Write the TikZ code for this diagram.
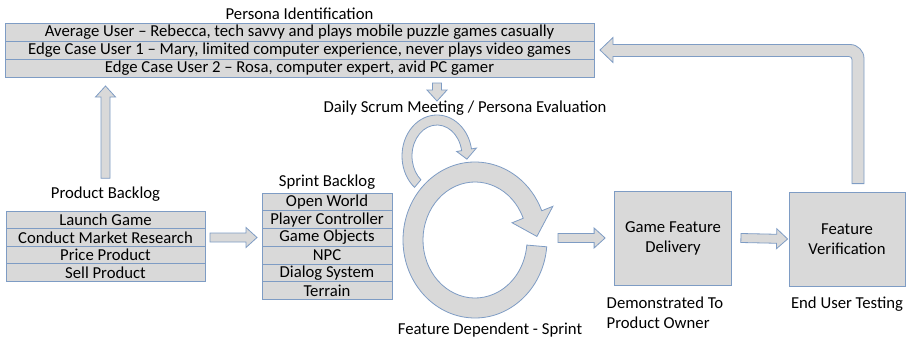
\documentclass[tikz,border=0pt]{standalone}
\usepackage{fontspec}
\setmainfont{Carlito}
\usetikzlibrary{positioning,calc}
\definecolor{boxfill}{RGB}{217,217,217}
\definecolor{boxline}{RGB}{126,156,196}
\tikzset{
  row/.style={draw=boxline, fill=boxfill, inner sep=0pt, outer sep=0pt},
  bigbox/.style={draw=boxline, fill=boxfill, align=center, minimum width=117, minimum height=94},
  blockarr/.style={draw=boxline, fill=boxfill, line join=miter},
}
% flat block arrow between two named coordinates
\newcommand{\blockarrow}[2]{%
  \path ($(#2)!11pt!(#1)$) coordinate (ah);
  \draw[blockarr] ($(#1)!4.5pt!90:(#2)$) -- ($(ah)!4.5pt!90:(#2)$) -- ($(ah)!10pt!90:(#2)$) -- (#2)
    -- ($(ah)!10pt!-90:(#2)$) -- ($(ah)!4.5pt!-90:(#2)$) -- ($(#1)!4.5pt!-90:(#2)$) -- cycle;}

\begin{document}
\begin{tikzpicture}[x=1pt, y=-1pt, font=\fontsize{16.7}{20}\selectfont, line width=0.8pt]
        \useasboundingbox (0,0) rectangle (907,345);

        % personas
        \node (p1) [row, minimum width=589, minimum height=18] at (299.5,32) {Average User -- Rebecca, tech savvy and plays mobile puzzle games casually};
        \node (p2) [row, minimum width=589, minimum height=18, below=0pt of p1] {Edge Case User 1 -- Mary, limited computer experience, never plays video games};
        \node (p3) [row, minimum width=589, minimum height=18, below=0pt of p2] {Edge Case User 2 -- Rosa, computer expert, avid PC gamer};
        \node (pit) [above=0pt of p1] {Persona Identification};

        % product backlog
        \node (pb1) [row, minimum width=199, minimum height=17.5] at (105.5,220) {Launch Game};
        \node (pb2) [row, minimum width=199, minimum height=17.5, below=0pt of pb1] {Conduct Market Research};
        \node (pb3) [row, minimum width=199, minimum height=17.5, below=0pt of pb2] {Price Product};
        \node (pb4) [row, minimum width=199, minimum height=17.5, below=0pt of pb3] {Sell Product};
        \node (pbt) [above=6pt of pb1] {Product Backlog};

        % sprint backlog
        \node (sb1) [row, minimum width=130, minimum height=17.7] at (327,202) {Open World};
        \node (sb2) [row, minimum width=130, minimum height=17.7, below=0pt of sb1] {Player Controller};
        \node (sb3) [row, minimum width=130, minimum height=17.7, below=0pt of sb2] {Game Objects};
        \node (sb4) [row, minimum width=130, minimum height=17.7, below=0pt of sb3] {NPC};
        \node (sb5) [row, minimum width=130, minimum height=17.7, below=0pt of sb4] {Dialog System};
        \node (sb6) [row, minimum width=130, minimum height=17.7, below=0pt of sb5] {Terrain};
        \node (sbt) [above=0pt of sb1] {Sprint Backlog};

        % sprint loop
        \coordinate (sprint) at (475,240);
        \coordinate (scrum) at (437,156);
        \node (dsm) at (465,108) {Daily Scrum Meeting / Persona Evaluation};
        \node (fds) at (490,330) {Feature Dependent - Sprint};

        % delivery and verification
        \node (gfd) [bigbox] at (673,238) {Game Feature\\Delivery};
        \node (fv) [bigbox, minimum width=116] at (847,239) {Feature\\Verification};
        \node (dpo) [align=left, anchor=north west] at (603,293) {Demonstrated To\\Product Owner};
        \node (eut) [below=7pt of fv] {End User Testing};

        % straight arrows
        \coordinate (a1) at ([xshift=5pt]pb2.east);
        \coordinate (a2) at ([xshift=-5pt]pb2.east -| sb1.west);
        \blockarrow{a1}{a2}
        \coordinate (u1) at ([yshift=5pt]pbt.north);
        \coordinate (u2) at ($(u1 |- p3.south)+(0,9)$);
        \blockarrow{u1}{u2}
        \coordinate (d1) at ($(p3.south)+(137.5,6)$);
        \coordinate (d2) at ($(d1 |- dsm.north)+(0,4)$);
        \blockarrow{d1}{d2}
        \coordinate (s1) at (558,238);
        \coordinate (s2) at ([xshift=-9pt]gfd.west);
        \blockarrow{s1}{s2}
        \coordinate (g1) at ([xshift=9pt]gfd.east);
        \coordinate (g2) at ([xshift=-1pt]fv.west);
        \blockarrow{g1}{g2}

        % return arrow
        \coordinate (rb) at ([xshift=11pt,yshift=8pt]fv.north);
        \coordinate (rt) at ([xshift=6pt]p2.east);
        \draw[blockarr] ($(rb)+(-6,0)$) -- ($(rb |- rt)+(-6,9.5)$) arc[start angle=0, end angle=-90, radius=3]
            -- ($(rt)+(13,6.5)$) -- ($(rt)+(13,12.5)$) -- (rt) -- ($(rt)+(13,-12.5)$) -- ($(rt)+(13,-5.5)$)
            -- ($(rb |- rt)+(-8,-5.5)$) arc[start angle=270, end angle=360, radius=14]
            -- ($(rb)+(6,0)$) -- cycle;

        % small loop and sprint ring
        \draw[blockarr] ($(scrum)+(130:35 and 41)$) arc[start angle=130, end angle=350, x radius=35, y radius=41]
            -- ($(scrum)+(350:40 and 46)$) -- ($(scrum)+(5:30 and 36)$) -- ($(scrum)+(350:20 and 26)$)
            -- ($(scrum)+(350:25 and 31)$) arc[start angle=350, end angle=130, x radius=25, y radius=31] -- cycle;
        \draw[blockarr] ($(sprint)+(5:72 and 78)$) arc[start angle=5, end angle=338, x radius=72, y radius=78]
            -- ($(sprint)+(338:84 and 90)$) -- ($(sprint)+(357:62 and 68)$) -- ($(sprint)+(338:40 and 46)$)
            -- ($(sprint)+(338:52 and 58)$) arc[start angle=338, end angle=5, x radius=52, y radius=58] -- cycle;
    \end{tikzpicture}
\end{document}
